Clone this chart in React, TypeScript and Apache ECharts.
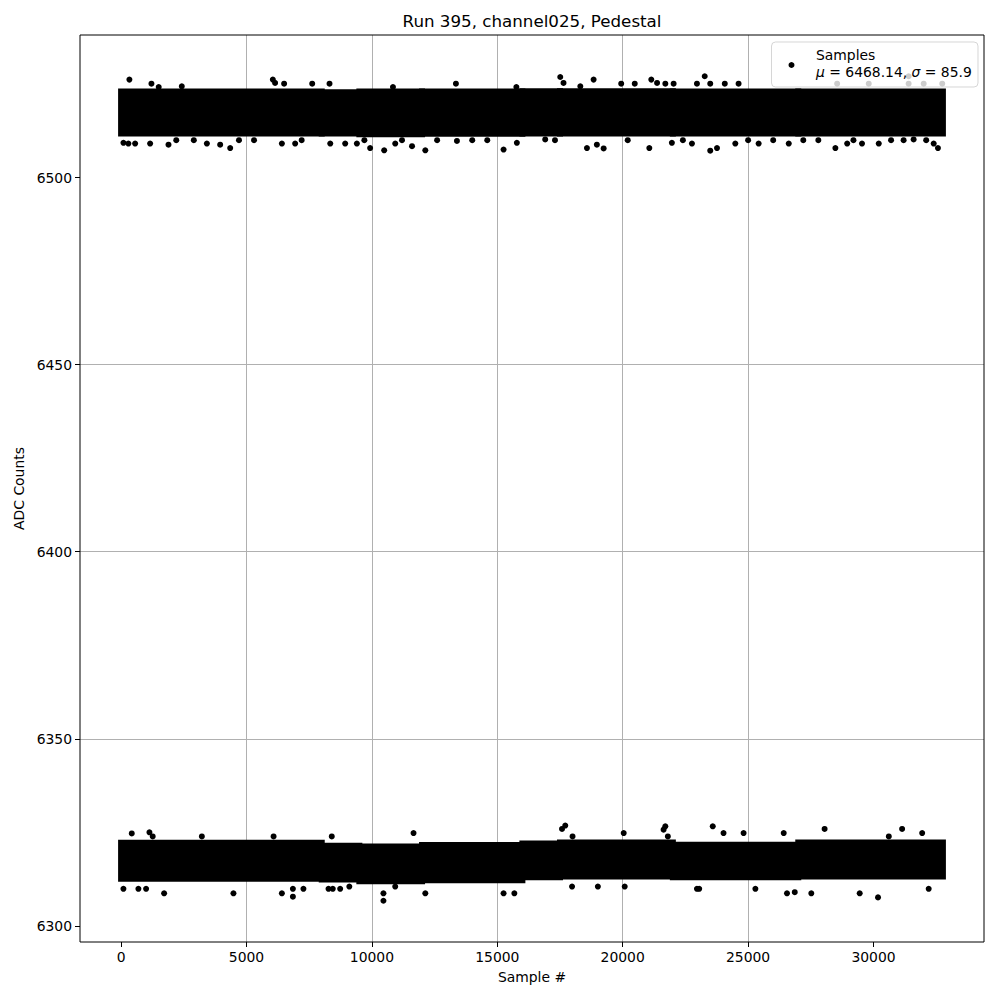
import React, { useEffect, useRef } from "react";
import * as echarts from "echarts";

// ---------------- data ----------------
const TITLE = "Run 395, channel025, Pedestal";
const X_NAME = "Sample #";
const Y_NAME = "ADC Counts";
const LEGEND_LABEL = "Samples";
const MU = 6468.14;
const SIGMA = 85.9;
const FIRST_SAMPLE = 0;
const LAST_SAMPLE = 32767;

const xTicks = [0, 5000, 10000, 15000, 20000, 25000, 30000];
const yTicks = [6300, 6350, 6400, 6450, 6500];

// dense core of each band, per sample segment (dot-centre extents)
const segStarts = [0, 8000, 9500, 12000, 16000, 17500, 22000, 27000];
const segEnds = [8000, 9500, 12000, 16000, 17500, 22000, 27000, 32767];
const upperLo = [6511.8, 6511.8, 6511.6, 6511.7, 6511.8, 6511.8, 6511.8, 6511.8];
const upperHi = [6523.0, 6522.8, 6523.0, 6523.0, 6523.1, 6523.1, 6523.0, 6523.0];
const lowerLo = [6312.6, 6312.4, 6311.9, 6312.2, 6313.0, 6313.2, 6313.0, 6313.2];
const lowerHi = [6322.2, 6321.4, 6321.2, 6321.6, 6322.0, 6322.3, 6321.7, 6322.3];

// individual samples outside the dense cores
const upperAbove: [number, number][] = [
  [331, 6526.2], [1210, 6525.1], [1500, 6524.2], [2420, 6524.4], [6050, 6526.2],
  [6140, 6525.3], [6500, 6525.1], [7620, 6525.1], [8310, 6525.1], [10840, 6524.2],
  [13350, 6525.1], [15760, 6524.2], [17510, 6526.9], [17640, 6525.3], [18310, 6524.4],
  [18840, 6526.2], [19940, 6525.1], [20480, 6525.1], [21140, 6526.2], [21370, 6525.3],
  [21700, 6525.1], [22030, 6525.1], [22960, 6525.1], [23270, 6527.1], [23490, 6525.1],
  [24070, 6525.1], [24620, 6525.1], [28550, 6525.1], [29810, 6525.1], [31400, 6525.1],
  [31400, 6527.1], [32000, 6525.1], [32740, 6525.1],
];
const upperBelow: [number, number][] = [
  [93, 6509.3], [291, 6509.1], [560, 6509.1], [1157, 6509.1], [1890, 6508.8],
  [2200, 6510.0], [2900, 6510.0], [3420, 6509.1], [3950, 6508.8], [4350, 6507.9],
  [4700, 6510.0], [5300, 6510.0], [6410, 6509.1], [6940, 6509.1], [7200, 6510.0],
  [8340, 6509.1], [8935, 6509.1], [9400, 6509.1], [9700, 6510.0], [9930, 6507.9],
  [10490, 6507.3], [10930, 6509.1], [11200, 6510.0], [11600, 6508.4], [12130, 6507.3],
  [12600, 6510.0], [13390, 6509.8], [14000, 6510.0], [14600, 6510.0], [15250, 6507.5],
  [15780, 6509.3], [16910, 6510.2], [17300, 6510.0], [18575, 6507.9], [18970, 6508.8],
  [19240, 6507.8], [20200, 6510.0], [21060, 6507.9], [21960, 6509.3], [22400, 6510.0],
  [22760, 6509.1], [23490, 6507.2], [23760, 6507.9], [24490, 6509.1], [25000, 6510.0],
  [25420, 6509.1], [26000, 6510.0], [26620, 6509.1], [27200, 6510.0], [27800, 6510.0],
  [28480, 6507.9], [28950, 6509.1], [29200, 6510.0], [29540, 6509.1], [30210, 6509.1],
  [30700, 6510.0], [31200, 6510.0], [31600, 6510.2], [32100, 6510.0], [32400, 6509.1],
  [32570, 6507.9],
];
const lowerAbove: [number, number][] = [
  [425, 6324.7], [1130, 6325.0], [1260, 6323.9], [3220, 6323.9], [6080, 6323.9],
  [8400, 6323.9], [11660, 6324.8], [17580, 6325.9], [17710, 6326.8], [18000, 6323.9],
  [20040, 6324.8], [21630, 6325.7], [21700, 6326.6], [21800, 6323.9], [23590, 6326.6],
  [24020, 6324.8], [24820, 6324.8], [26420, 6324.8], [28050, 6325.9], [30610, 6323.9],
  [31140, 6325.9], [31940, 6324.8],
];
const lowerBelow: [number, number][] = [
  [93, 6309.9], [690, 6309.9], [997, 6309.9], [1715, 6308.7], [4480, 6308.7],
  [6410, 6308.7], [6850, 6307.8], [6850, 6309.9], [7270, 6309.9], [8270, 6309.9],
  [8440, 6309.9], [8735, 6309.9], [9100, 6310.5], [10460, 6306.7], [10460, 6308.7],
  [10930, 6310.5], [12130, 6308.7], [15250, 6308.7], [15680, 6308.7], [17980, 6310.5],
  [19010, 6310.5], [20080, 6310.5], [22960, 6309.9], [23050, 6309.9], [25290, 6309.9],
  [26550, 6308.7], [26860, 6309.0], [27520, 6308.7], [29450, 6308.7], [30180, 6307.6],
  [32200, 6309.9],
];

// ---------------- chart ----------------
const FONT = "DejaVu Sans";

export default function App() {
  const ref = useRef<HTMLDivElement>(null);

  useEffect(() => {
    if (!ref.current) return;
    const chart = echarts.init(ref.current, undefined, { renderer: "svg" });

    const bands: number[][] = [];
    segStarts.forEach((s, i) => {
      bands.push([s, segEnds[i], upperLo[i], upperHi[i]]);
      bands.push([s, segEnds[i], lowerLo[i], lowerHi[i]]);
    });
    const points = [...upperAbove, ...upperBelow, ...lowerAbove, ...lowerBelow];

    const allY = points.map((p) => p[1]);
    const yLo = Math.min(...allY);
    const yHi = Math.max(...allY);
    const yMin = yLo - 0.05 * (yHi - yLo);
    const yMax = yHi + 0.05 * (yHi - yLo);
    const xMin = FIRST_SAMPLE - 0.05 * (LAST_SAMPLE - FIRST_SAMPLE);
    const xMax = LAST_SAMPLE + 0.05 * (LAST_SAMPLE - FIRST_SAMPLE);

    const GL = 80, GT = 35, GW = 904, GH = 907;
    const R = 3;
    const plain = (v: number) => String(Math.round(v));

    const axisCommon = (ticks: number[]) => ({
      axisLine: { show: false, onZero: false },
      axisTick: {
        show: true,
        customValues: ticks,
        length: 5,
        lineStyle: { color: "#000", width: 1 },
      },
      axisLabel: {
        customValues: ticks,
        formatter: plain,
        color: "#000",
        fontFamily: FONT,
        fontSize: 13.9,
        margin: 8,
      },
      splitLine: {
        show: true,
        showMinLine: false,
        showMaxLine: false,
        lineStyle: { color: "#b0b0b0", width: 1 },
      },
    });

    chart.setOption({
      animation: false,
      backgroundColor: "#ffffff",
      grid: { left: GL, top: GT, width: GW, height: GH, containLabel: false },
      xAxis: {
        type: "value",
        min: xMin,
        max: xMax,
        name: X_NAME,
        nameLocation: "middle",
        nameGap: 28,
        nameTextStyle: { color: "#000", fontFamily: FONT, fontSize: 13.9 },
        ...axisCommon(xTicks),
      },
      yAxis: {
        type: "value",
        min: yMin,
        max: yMax,
        name: Y_NAME,
        nameLocation: "middle",
        nameGap: 53,
        nameRotate: 90,
        nameTextStyle: { color: "#000", fontFamily: FONT, fontSize: 13.9 },
        ...axisCommon(yTicks),
      },
      series: [
        {
          type: "custom",
          silent: true,
          data: bands,
          encode: { x: [0, 1], y: [2, 3] },
          renderItem: (_p: any, api: any) => {
            const a = api.coord([api.value(0), api.value(3)]);
            const b = api.coord([api.value(1), api.value(2)]);
            return {
              type: "rect",
              shape: {
                x: a[0] - R,
                y: a[1] - R,
                width: b[0] - a[0] + 2 * R,
                height: b[1] - a[1] + 2 * R,
              },
              style: { fill: "#000" },
            };
          },
        },
        {
          type: "scatter",
          silent: true,
          symbol: "circle",
          symbolSize: 6,
          itemStyle: { color: "#000", opacity: 1 },
          data: points,
        },
      ],
      graphic: [
        {
          type: "rect",
          z: 100,
          silent: true,
          shape: { x: GL, y: GT, width: GW, height: GH },
          style: { fill: "none", stroke: "#000", lineWidth: 1 },
        },
        {
          type: "text",
          z: 100,
          silent: true,
          x: GL + GW / 2,
          y: 21,
          style: {
            text: TITLE,
            fontFamily: FONT,
            fontSize: 16.7,
            fill: "#000",
            align: "center",
            verticalAlign: "middle",
          },
        },
        {
          type: "rect",
          z: 110,
          silent: true,
          shape: { x: 771.5, y: 42, width: 206.5, height: 45, r: 4 },
          style: {
            fill: "rgba(255,255,255,0.8)",
            stroke: "rgba(204,204,204,0.8)",
            lineWidth: 1,
          },
        },
        {
          type: "circle",
          z: 111,
          silent: true,
          shape: { cx: 791.5, cy: 65, r: 3 },
          style: { fill: "#000" },
        },
        {
          type: "text",
          z: 111,
          silent: true,
          x: 816,
          y: 54.5,
          style: {
            text: LEGEND_LABEL,
            fontFamily: FONT,
            fontSize: 13.9,
            fill: "#000",
            align: "left",
            verticalAlign: "middle",
          },
        },
        {
          type: "text",
          z: 111,
          silent: true,
          x: 816,
          y: 71.5,
          style: {
            text: `{i|μ} = ${MU.toFixed(2)}, {i|σ} = ${SIGMA.toFixed(1)}`,
            fontFamily: FONT,
            fontSize: 13.9,
            fill: "#000",
            align: "left",
            verticalAlign: "middle",
            rich: {
              i: { fontFamily: FONT, fontSize: 13.9, fontStyle: "italic", fill: "#000" },
            },
          },
        },
      ],
    });

    return () => chart.dispose();
  }, []);

  return (
    <div
      ref={ref}
      style={{ position: "absolute", left: 0, top: 0, width: 1000, height: 1000 }}
    />
  );
}
